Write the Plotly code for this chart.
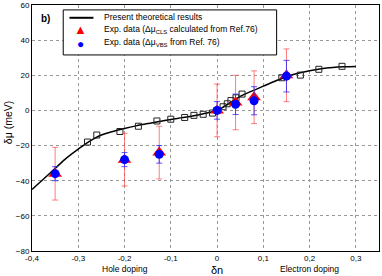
import plotly.graph_objects as go

# Theoretical curve
curve_x = [-0.4, -0.375, -0.35, -0.325, -0.3, -0.275, -0.25, -0.225, -0.2, -0.175, -0.15, -0.125,
           -0.1, -0.075, -0.05, -0.025, 0.0, 0.025, 0.05, 0.075, 0.1, 0.125, 0.15, 0.175, 0.2,
           0.225, 0.25, 0.275, 0.3]
curve_y = [-45, -39, -33, -27, -22, -17.5, -14, -12, -10.3, -8.8, -7.5, -6.3,
           -5.1, -4.1, -3.0, -1.6, 0.0, 3.8, 8.0, 11.0, 13.8, 16.6, 19.2, 21.1, 22.6,
           23.7, 24.4, 24.8, 25.0]

# Computed points (open squares)
sq_x = [-0.28, -0.26, -0.21, -0.17, -0.13, -0.10, -0.07, -0.05, -0.03, -0.01, 0.0, 0.013,
        0.022, 0.030, 0.041, 0.054, 0.14, 0.18, 0.22, 0.27]
sq_y = [-18, -14, -12, -9, -6, -5, -4, -2.8, -2.2, -1.5, 0, 2.1,
        3.8, 5.6, 7.2, 9.3, 18.6, 20.1, 23.4, 25.1]

# Experimental data
exp_x = [-0.35, -0.2, -0.125, 0.0, 0.04, 0.08, 0.15]
cls_y = [-36, -28, -24, 0, 4.5, 7.5, 20]
cls_err = [15, 15, 15, 15, 15.5, 15, 15]
vbs_y = [-36, -28, -25, 0, 3.5, 5.5, 19.5]
vbs_err = [4, 4, 5, 5, 5.8, 8, 9]

x_ticks = [-0.4, -0.3, -0.2, -0.1, 0, 0.1, 0.2, 0.3]
x_tick_labels = ["-0,4", "-0,3", "-0,2", "-0,1", "0", "0,1", "0,2", "0,3"]
y_ticks = [-80, -60, -40, -20, 0, 20, 40, 60]

legend_labels = ["Present theoretical results",
                 "Exp. data (Δμ<sub>CLS</sub> calculated from Ref.76)",
                 "Exp. data (Δμ<sub>VBS</sub> from Ref. 76)"]

FONT = "Liberation Sans, Arial, sans-serif"
RED = "#ff0000"
BLUE = "#0000ff"

fig = go.Figure()
fig.add_trace(go.Scatter(x=curve_x, y=curve_y, mode="lines", showlegend=False,
                         line=dict(color="black", width=1.5, shape="spline")))
fig.add_trace(go.Scatter(x=sq_x, y=sq_y, mode="markers", showlegend=False,
                         marker=dict(symbol="square-open", size=6, color="#222222", line=dict(width=1))))
fig.add_trace(go.Scatter(x=exp_x, y=cls_y, mode="markers", showlegend=False,
                         error_y=dict(type="data", array=cls_err, color="rgba(255,70,70,0.7)", thickness=1, width=3),
                         marker=dict(symbol="triangle-up", size=12, color=RED)))
fig.add_trace(go.Scatter(x=exp_x, y=vbs_y, mode="markers", showlegend=False,
                         error_y=dict(type="data", array=vbs_err, color="rgba(40,40,255,0.8)", thickness=1, width=3),
                         marker=dict(symbol="circle", size=9, color=BLUE)))

# custom legend (box, line sample, symbols, texts)
shapes = [
    dict(type="rect", xref="paper", yref="paper", x0=0.090, x1=0.705, y0=0.797, y1=0.980,
         fillcolor="white", line=dict(color="black", width=1), layer="above"),
    dict(type="line", xref="paper", yref="paper", x0=0.108, x1=0.177, y0=0.948, y1=0.948,
         line=dict(color="black", width=2), layer="above"),
]

annotations = [
    dict(text="<b>b)</b>", x=0.02, y=0.975, xref="paper", yref="paper", xanchor="left", yanchor="top",
         showarrow=False, font=dict(size=10)),
    dict(text="▲", x=0.140, y=0.902, xref="paper", yref="paper", xanchor="center", yanchor="middle",
         showarrow=False, font=dict(size=13, color=RED)),
    dict(text="●", x=0.140, y=0.840, xref="paper", yref="paper", xanchor="center", yanchor="middle",
         showarrow=False, font=dict(size=12, color=BLUE)),
    dict(text="Hole doping", x=-0.2, y=-0.072, xref="x", yref="paper", xanchor="center", yanchor="middle",
         showarrow=False, font=dict(size=8.5)),
    dict(text="Electron doping", x=0.2, y=-0.072, xref="x", yref="paper", xanchor="center", yanchor="middle",
         showarrow=False, font=dict(size=8.5)),
    dict(text="δn", x=0.0, y=-0.079, xref="x", yref="paper", xanchor="center", yanchor="middle",
         showarrow=False, font=dict(size=11)),
    dict(text="δμ (meV)", x=-0.069, y=0.52, xref="paper", yref="paper", xanchor="center", yanchor="middle",
         textangle=-90, showarrow=False, font=dict(size=10.5)),
]
for lbl, yy in zip(legend_labels, [0.950, 0.900, 0.848]):
    annotations.append(dict(text=lbl, x=0.2026, y=yy, xref="paper", yref="paper", xanchor="left",
                            yanchor="middle", showarrow=False, font=dict(size=8.5)))

fig.update_layout(
    width=382, height=276,
    margin=dict(l=32, r=3, t=5, b=25),
    paper_bgcolor="white", plot_bgcolor="white",
    font=dict(family=FONT, size=8, color="black"),
    showlegend=False,
    xaxis=dict(range=[-0.4, 0.35], tickvals=x_ticks, ticktext=x_tick_labels, automargin=False,
               showgrid=True, gridcolor="#999999", griddash="dot", gridwidth=1,
               showline=True, linecolor="black", linewidth=1, mirror=True,
               ticks="", zeroline=False, tickfont=dict(size=8), ticklabelstandoff=-1),
    yaxis=dict(range=[-80, 60], tickvals=y_ticks, automargin=False,
               showgrid=True, gridcolor="#999999", griddash="dot", gridwidth=1,
               showline=True, linecolor="black", linewidth=1, mirror=True,
               ticks="", zeroline=False, tickfont=dict(size=8)),
    shapes=shapes,
    annotations=annotations,
)

fig.write_html("out.html", config={"displayModeBar": False},
               post_script="document.body.style.margin='0';document.body.style.overflow='hidden';")
